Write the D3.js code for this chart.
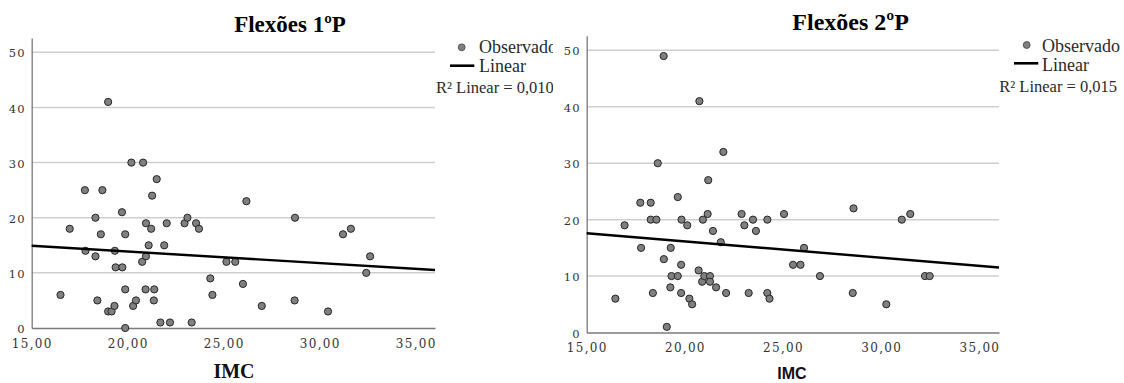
<!DOCTYPE html>
<html>
<head>
<meta charset="utf-8">
<script src="https://cdn.jsdelivr.net/npm/d3@7"></script>
<style>
  html, body { margin: 0; padding: 0; background: #fff; }
  svg { display: block; }
</style>
</head>
<body>
<svg id="chart" width="1124" height="383"></svg>
<script>
// IMC vs. push-ups (flexões), first and second period
const titles = ["Flexões 1ºP", "Flexões 2ºP"];
const xLabel = "IMC";
const legendLabels = ["Observado", "Linear"];
const r2Labels = ["R² Linear = 0,010", "R² Linear = 0,015"];

const imc1 = [16.50, 16.98, 17.77, 17.80, 18.32, 18.32, 18.42, 18.60, 18.68, 18.98,
              18.98, 19.16, 19.31, 19.33, 19.37, 19.70, 19.72, 19.87, 19.87, 19.87,
              20.19, 20.28, 20.43, 20.75, 20.80, 20.95, 20.95, 20.93, 21.09, 21.22,
              21.27, 21.36, 21.38, 21.51, 21.70, 21.90, 22.03, 22.20, 22.96, 23.11,
              23.33, 23.56, 23.71, 24.30, 24.41, 25.14, 25.60, 26.00, 26.18, 26.98,
              28.69, 28.71, 30.43, 31.21, 31.62, 32.42, 32.62];
const flexoes1 = [6, 18, 25, 14, 20, 13, 5, 17, 25, 41,
                  3, 3, 4, 14, 11, 21, 11, 17, 7, 0,
                  30, 4, 5, 12, 30, 19, 13, 7, 15, 18,
                  24, 5, 7, 27, 1, 15, 19, 1, 19, 20,
                  1, 19, 18, 9, 6, 12, 12, 8, 23, 4,
                  5, 20, 3, 17, 18, 10, 13];

const imc2 = [16.46, 16.93, 17.73, 17.77, 18.26, 18.26, 18.37, 18.55, 18.62, 18.92,
              18.93, 19.08, 19.26, 19.28, 19.32, 19.64, 19.64, 19.81, 19.81, 19.83,
              20.12, 20.23, 20.37, 20.70, 20.74, 20.88, 20.92, 20.99, 21.16, 21.19,
              21.28, 21.28, 21.43, 21.59, 21.83, 21.96, 22.10, 22.89, 23.03, 23.25,
              23.47, 23.62, 24.20, 24.20, 24.31, 25.05, 25.51, 25.89, 26.07, 26.88,
              28.55, 28.59, 30.26, 31.05, 31.48, 32.23, 32.47];
const flexoes2 = [6, 19, 23, 15, 23, 20, 7, 20, 30, 49,
                  13, 1, 8, 15, 10, 10, 24, 12, 7, 20,
                  19, 6, 5, 11, 41, 9, 20, 10, 21, 27,
                  10, 9, 18, 8, 16, 32, 7, 21, 19, 7,
                  20, 18, 7, 20, 6, 21, 12, 12, 15, 10,
                  7, 22, 5, 20, 21, 10, 10];

const xTicks = [15, 20, 25, 30, 35];
const yTicks = [0, 10, 20, 30, 40, 50];
const xDomain = [15, 36];
const yDomain = [0, 52.6];

const ptLocale = d3.formatLocale({decimal: ",", thousands: ".", grouping: [3], currency: ["", ""]});
const fmtX = ptLocale.format(".2f");

// Ordinary least-squares fit y = a + b x
function linearFit(xs, ys) {
  const mx = d3.mean(xs), my = d3.mean(ys);
  let sxy = 0, sxx = 0;
  xs.forEach((x, i) => { sxy += (x - mx) * (ys[i] - my); sxx += (x - mx) * (x - mx); });
  const b = sxy / sxx;
  return { a: my - b * mx, b };
}

const svg = d3.select("#chart");
const defs = svg.append("defs");

const panels = [
  {
    xs: imc1, ys: flexoes1, title: titles[0], r2: r2Labels[0],
    x0: 31.7, x1: 435, yBottom: 328, yTop: 38,
    clipW: 553, titleX: 290, titleY: 31.7, titleSize: 23,
    xLabelX: 234, xLabelY: 378, xLabelFont: "'Liberation Serif', serif", xLabelSize: 20,
    xTickY: 347.5,
    legend: { cx: 461.7, cy: 47.3, tx: 479, ty1: 52.7, lx0: 450, lx1: 474.3, ly: 65.7, ty2: 71.7, rx: 436, ry: 92.5 }
  },
  {
    xs: imc2, ys: flexoes2, title: titles[1], r2: r2Labels[1],
    x0: 586.7, x1: 999, yBottom: 332.5, yTop: 35.7,
    clipW: null, titleX: 850.6, titleY: 29.5, titleSize: 24,
    xLabelX: 792, xLabelY: 379, xLabelFont: "'Liberation Sans', Arial, sans-serif", xLabelSize: 16,
    xTickY: 352,
    legend: { cx: 1026.7, cy: 45, tx: 1042, ty1: 51.7, lx0: 1014, lx1: 1038.3, ly: 63.3, ty2: 70.7, rx: 999.3, ry: 91.7 }
  }
];

panels.forEach((p, idx) => {
  let g = svg.append("g");
  if (p.clipW) {
    defs.append("clipPath").attr("id", "clip" + idx)
      .append("rect").attr("x", 0).attr("y", 0).attr("width", p.clipW).attr("height", 383);
    g.attr("clip-path", `url(#clip${idx})`);
  }

  const x = d3.scaleLinear().domain(xDomain).range([p.x0, p.x1]);
  const y = d3.scaleLinear().domain(yDomain).range([p.yBottom, p.yTop]);

  // horizontal grid lines
  g.append("g").selectAll("line").data(yTicks.filter(t => t > 0)).join("line")
    .attr("x1", p.x0).attr("x2", p.x1)
    .attr("y1", d => y(d)).attr("y2", d => y(d))
    .attr("stroke", "#cfcfcf").attr("stroke-width", 1.5);

  // axes
  const yAxis = g.append("g").attr("transform", `translate(${p.x0},0)`)
    .call(d3.axisLeft(y).tickValues(yTicks).tickSize(0).tickPadding(6).tickFormat(d3.format("d")));
  yAxis.select(".domain").attr("stroke", "#7a7a7a").attr("stroke-width", 1.3);
  yAxis.selectAll("text")
    .attr("dy", "0.4em")
    .attr("fill", "#333")
    .style("font-family", "'DejaVu Serif', serif").style("font-size", "11.5px")
    .style("letter-spacing", "1.2px");

  const xAxis = g.append("g").attr("transform", `translate(0,${p.yBottom})`)
    .call(d3.axisBottom(x).tickValues(xTicks).tickSize(0).tickPadding(0).tickFormat(fmtX));
  xAxis.select(".domain").attr("stroke", "#7a7a7a").attr("stroke-width", 1.5);
  xAxis.selectAll("text")
    .attr("y", p.xTickY - p.yBottom).attr("dy", 0)
    .attr("fill", "#333")
    .style("font-family", "'DejaVu Serif', serif").style("font-size", "12px")
    .style("letter-spacing", "1.3px");

  // observed points
  g.append("g").selectAll("circle").data(p.xs.map((v, i) => [v, p.ys[i]])).join("circle")
    .attr("cx", d => x(d[0])).attr("cy", d => y(d[1])).attr("r", 3.6)
    .attr("fill", "#808080").attr("stroke", "#262626").attr("stroke-width", 1);

  // linear fit
  const fit = linearFit(p.xs, p.ys);
  g.append("line")
    .attr("x1", x(xDomain[0])).attr("y1", y(fit.a + fit.b * xDomain[0]))
    .attr("x2", x(xDomain[1])).attr("y2", y(fit.a + fit.b * xDomain[1]))
    .attr("stroke", "#000").attr("stroke-width", 2.4);

  // title
  g.append("text").attr("x", p.titleX).attr("y", p.titleY).attr("text-anchor", "middle")
    .style("font-family", "'Liberation Serif', serif").style("font-weight", "bold")
    .style("font-size", p.titleSize + "px").attr("fill", "#000").text(p.title);

  // x-axis label
  g.append("text").attr("x", p.xLabelX).attr("y", p.xLabelY).attr("text-anchor", "middle")
    .style("font-family", p.xLabelFont).style("font-weight", "bold")
    .style("font-size", p.xLabelSize + "px").attr("fill", "#111").text(xLabel);

  // legend
  const L = p.legend;
  const lg = g.append("g").style("font-family", "'Liberation Serif', serif").attr("fill", "#2a2a2a");
  lg.append("circle").attr("cx", L.cx).attr("cy", L.cy).attr("r", 3.4)
    .attr("fill", "#808080").attr("stroke", "#555").attr("stroke-width", 1);
  lg.append("text").attr("x", L.tx).attr("y", L.ty1).style("font-size", "18px").text(legendLabels[0]);
  lg.append("line").attr("x1", L.lx0).attr("x2", L.lx1).attr("y1", L.ly).attr("y2", L.ly)
    .attr("stroke", "#000").attr("stroke-width", 2.6);
  lg.append("text").attr("x", L.tx).attr("y", L.ty2).style("font-size", "18px").text(legendLabels[1]);
  lg.append("text").attr("x", L.rx).attr("y", L.ry).style("font-size", "16.5px").text(p.r2);
});
</script>
</body>
</html>
